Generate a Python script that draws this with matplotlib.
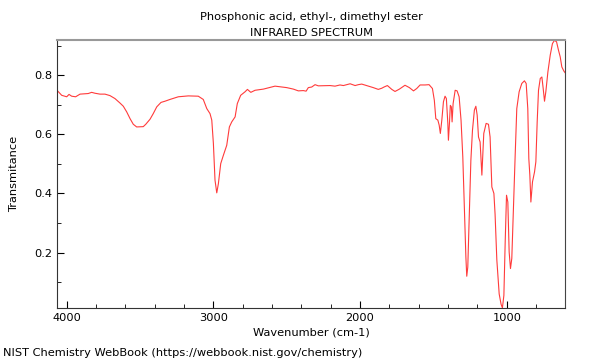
import matplotlib
matplotlib.use("Agg")
import matplotlib.pyplot as plt
from matplotlib.ticker import MultipleLocator

# IR spectrum (wavenumber in cm-1, transmittance)
wavenumber = [4066, 4034, 4000, 3984, 3966, 3939, 3909, 3853, 3830, 3807,
              3773, 3739, 3705, 3671, 3637, 3614, 3591, 3568, 3546, 3523,
              3478, 3461, 3432, 3410, 3386, 3357, 3330, 3296, 3239, 3171,
              3103, 3069, 3045, 3023, 3011, 3000, 2989, 2977, 2966, 2950,
              2932, 2909, 2891, 2875, 2852, 2837, 2814, 2784, 2768, 2745,
              2716, 2659, 2580, 2500, 2455, 2421, 2387, 2368, 2353, 2330,
              2307, 2285, 2205, 2171, 2137, 2114, 2068, 2034, 2012, 1989,
              1955, 1910, 1876, 1852, 1837, 1814, 1784, 1762, 1732, 1694,
              1664, 1636, 1614, 1591, 1557, 1530, 1507, 1494, 1484, 1470,
              1461, 1453, 1443, 1432, 1421, 1412, 1402, 1398, 1391, 1385,
              1378, 1373, 1366, 1352, 1339, 1325, 1312, 1300, 1289, 1279,
              1273, 1266, 1257, 1245, 1234, 1221, 1211, 1202, 1193, 1182,
              1170, 1163, 1157, 1141, 1125, 1114, 1102, 1088, 1080, 1068,
              1052, 1039, 1030, 1020, 1011, 1002, 993, 984, 975, 966,
              955, 943, 932, 916, 898, 880, 868, 857, 850, 843,
              836, 825, 811, 802, 793, 784, 772, 761, 752, 743,
              734, 720, 704, 689, 675, 661, 648, 636, 625, 611, 602]
transmittance = [0.749, 0.732, 0.727, 0.735, 0.729, 0.727, 0.736, 0.738, 0.742, 0.739,
                 0.736, 0.736, 0.731, 0.721, 0.706, 0.695, 0.676, 0.653, 0.634, 0.625,
                 0.626, 0.634, 0.651, 0.670, 0.693, 0.708, 0.712, 0.718, 0.727, 0.730,
                 0.729, 0.718, 0.687, 0.670, 0.648, 0.569, 0.445, 0.402, 0.433, 0.501,
                 0.529, 0.563, 0.625, 0.642, 0.659, 0.704, 0.732, 0.744, 0.752, 0.742,
                 0.749, 0.753, 0.763, 0.758, 0.753, 0.747, 0.748, 0.746, 0.758, 0.760,
                 0.768, 0.764, 0.765, 0.763, 0.767, 0.765, 0.771, 0.765, 0.768, 0.770,
                 0.765, 0.758, 0.752, 0.756, 0.760, 0.765, 0.752, 0.745, 0.753, 0.766,
                 0.758, 0.747, 0.755, 0.767, 0.767, 0.768, 0.755, 0.715, 0.653, 0.648,
                 0.631, 0.603, 0.648, 0.710, 0.729, 0.721, 0.637, 0.580, 0.637, 0.698,
                 0.693, 0.642, 0.704, 0.749, 0.747, 0.727, 0.648, 0.524, 0.343, 0.185,
                 0.120, 0.151, 0.309, 0.512, 0.614, 0.682, 0.695, 0.665, 0.591, 0.574,
                 0.462, 0.535, 0.603, 0.637, 0.634, 0.591, 0.422, 0.400, 0.330, 0.175,
                 0.060, 0.025, 0.013, 0.055, 0.236, 0.394, 0.371, 0.202, 0.146, 0.180,
                 0.349, 0.529, 0.687, 0.744, 0.772, 0.781, 0.772, 0.687, 0.518, 0.462,
                 0.371, 0.439, 0.473, 0.507, 0.642, 0.749, 0.789, 0.794, 0.755, 0.712,
                 0.744, 0.811, 0.868, 0.907, 0.918, 0.913, 0.885, 0.862, 0.828, 0.814, 0.808]

title = "Phosphonic acid, ethyl-, dimethyl ester\nINFRARED SPECTRUM"
footer = "NIST Chemistry WebBook (https://webbook.nist.gov/chemistry)"

fig = plt.figure(figsize=(6, 3.6), dpi=100)
ax = fig.add_axes([0.095, 0.144, 0.847, 0.744])

ax.plot(wavenumber, transmittance, color="#ff3b3b", lw=0.8)

ax.set_xlim(4066, 602)
ax.set_ylim(0.012, 0.918)
ax.xaxis.set_major_locator(MultipleLocator(1000))
ax.xaxis.set_minor_locator(MultipleLocator(200))
ax.yaxis.set_major_locator(MultipleLocator(0.2))
ax.yaxis.set_minor_locator(MultipleLocator(0.1))
ax.tick_params(which="both", direction="in", labelsize=8.2)
ax.tick_params(which="major", length=5)
ax.tick_params(which="minor", length=3)

for side in ["left", "bottom"]:
    ax.spines[side].set_color("#333333")
ax.spines["right"].set_color("#444444")
ax.spines["top"].set_color("#999999")
ax.spines["top"].set_linewidth(1.5)

ax.set_title(title, fontsize=8.2, pad=3, linespacing=1.75)
ax.set_xlabel("Wavenumber (cm-1)", fontsize=8.2, labelpad=3)
ax.set_ylabel("Transmitance", fontsize=8.2, labelpad=11)
fig.text(0.005, 0.012, footer, fontsize=8.2)

fig.savefig("out.png", dpi=100)
